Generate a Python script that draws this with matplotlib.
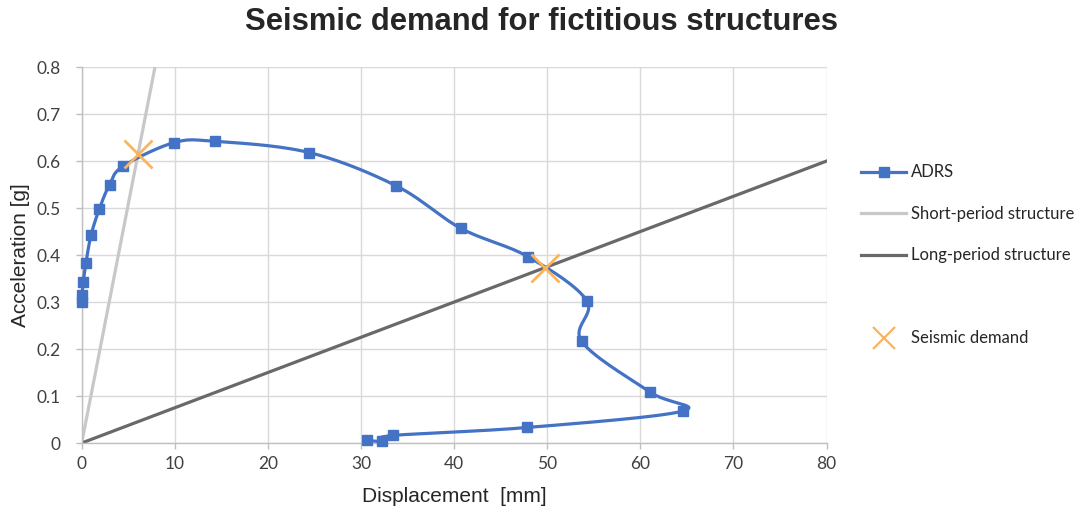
import matplotlib.pyplot as plt
from matplotlib.lines import Line2D
import numpy as np

# ADRS curve points (displacement mm, acceleration g)
adrs_d = [0.0, 0.03, 0.17, 0.46, 1.0, 1.89, 3.0, 4.44, 9.88, 14.29, 24.45, 33.8,
          40.7, 47.97, 54.24, 53.7, 61.07, 64.55, 47.86, 33.4, 32.2, 30.6]
adrs_a = [0.301, 0.315, 0.343, 0.384, 0.442, 0.498, 0.550, 0.589, 0.639, 0.642,
          0.618, 0.547, 0.457, 0.396, 0.303, 0.216, 0.108, 0.068, 0.033, 0.016,
          0.004, 0.006]

# structure capacity lines
short_d = [0, 7.87]
short_a = [0, 0.8]
long_d = [0, 80]
long_a = [0, 0.6]

# intersections
demand_d = [6.05, 49.76]
demand_a = [0.615, 0.372]

xticks = [0, 10, 20, 30, 40, 50, 60, 70, 80]
yticks = [0, 0.1, 0.2, 0.3, 0.4, 0.5, 0.6, 0.7, 0.8]
yticklabels = ['0', '0.1', '0.2', '0.3', '0.4', '0.5', '0.6', '0.7', '0.8']


def smooth(x, y, yscale=50.5, n=30):
    # bezier smoothing like a spreadsheet "smoothed line", done in screen-ish units
    p = np.column_stack([np.asarray(x, float), np.asarray(y, float) * yscale])
    pts = np.vstack([p[0], p, p[-1]])
    out = []
    t = np.linspace(0, 1, n)[:, None]
    for i in range(1, len(pts) - 2):
        p0, p3 = pts[i], pts[i + 1]
        c1 = p0 + (pts[i + 1] - pts[i - 1]) / 6
        c2 = p3 - (pts[i + 2] - pts[i]) / 6
        seg = ((1 - t) ** 3) * p0 + 3 * ((1 - t) ** 2) * t * c1 + 3 * (1 - t) * t ** 2 * c2 + t ** 3 * p3
        out.append(seg)
    out = np.vstack(out)
    return out[:, 0], out[:, 1] / yscale


blue = '#4472C4'
light = '#C8C8C8'
dark = '#696969'
orange = '#FBB45C'

fig = plt.figure(figsize=(10.78, 5.15), dpi=100)
ax = fig.add_axes([0.0758, 0.1398, 0.691, 0.730])

ax.plot(short_d, short_a, color=light, lw=2.3, zorder=2)
ax.plot(long_d, long_a, color=dark, lw=2.3, zorder=2)
sx, sy = smooth(adrs_d, adrs_a)
ax.plot(sx, sy, color=blue, lw=2.3, zorder=3, clip_on=False)
ax.plot(adrs_d, adrs_a, ls='none', marker='s', ms=6.5, color=blue, zorder=4, clip_on=False)
ax.plot(demand_d, demand_a, ls='none', marker='x', ms=20, mew=2.0, color=orange, zorder=5, clip_on=False)

ax.set_xlim(0, 80)
ax.set_ylim(0, 0.8)
ax.set_xticks(xticks)
ax.set_yticks(yticks)
ax.set_yticklabels(yticklabels)
ax.grid(True, color='#D9D9D9', lw=1.0)
ax.set_axisbelow(True)
for s in ['top', 'right']:
    ax.spines[s].set_visible(False)
for s in ['left', 'bottom']:
    ax.spines[s].set_color('#BFBFBF')
    ax.spines[s].set_linewidth(1.0)
ax.tick_params(length=4, width=1, color='#BFBFBF', labelsize=12.5, labelcolor='#404040')
ax.tick_params(axis='x', pad=5)
ax.tick_params(axis='y', pad=11)
for lab in ax.get_xticklabels() + ax.get_yticklabels():
    lab.set_family('Lato')

ax.set_xlabel('Displacement  [mm]', fontsize=15, family='Liberation Sans', color='#262626', labelpad=11)
ax.set_ylabel('Acceleration [g]', fontsize=15, family='Liberation Sans', color='#262626', labelpad=5)
fig.text(0.502, 0.957, 'Seismic demand for fictitious structures', ha='center', va='center',
         fontsize=22.3, fontweight='bold', family='Liberation Sans', color='#262626')

handles = [
    Line2D([], [], color=blue, lw=2.3, marker='s', ms=6.5),
    Line2D([], [], color=light, lw=2.3),
    Line2D([], [], color=dark, lw=2.3),
    Line2D([], [], color='none'),
    Line2D([], [], ls='none', marker='x', ms=16, mew=1.6, color=orange),
]
labels = ['ADRS', 'Short-period structure', 'Long-period structure', ' ', 'Seismic demand']
leg = fig.legend(handles, labels, loc='upper left', bbox_to_anchor=(0.785, 0.71),
                 frameon=False, handlelength=2.7, handletextpad=0.3,
                 labelspacing=1.53, prop={'family': 'Lato', 'size': 12})
for t in leg.get_texts():
    t.set_color('#262626')

fig.savefig('out.png', dpi=100)
